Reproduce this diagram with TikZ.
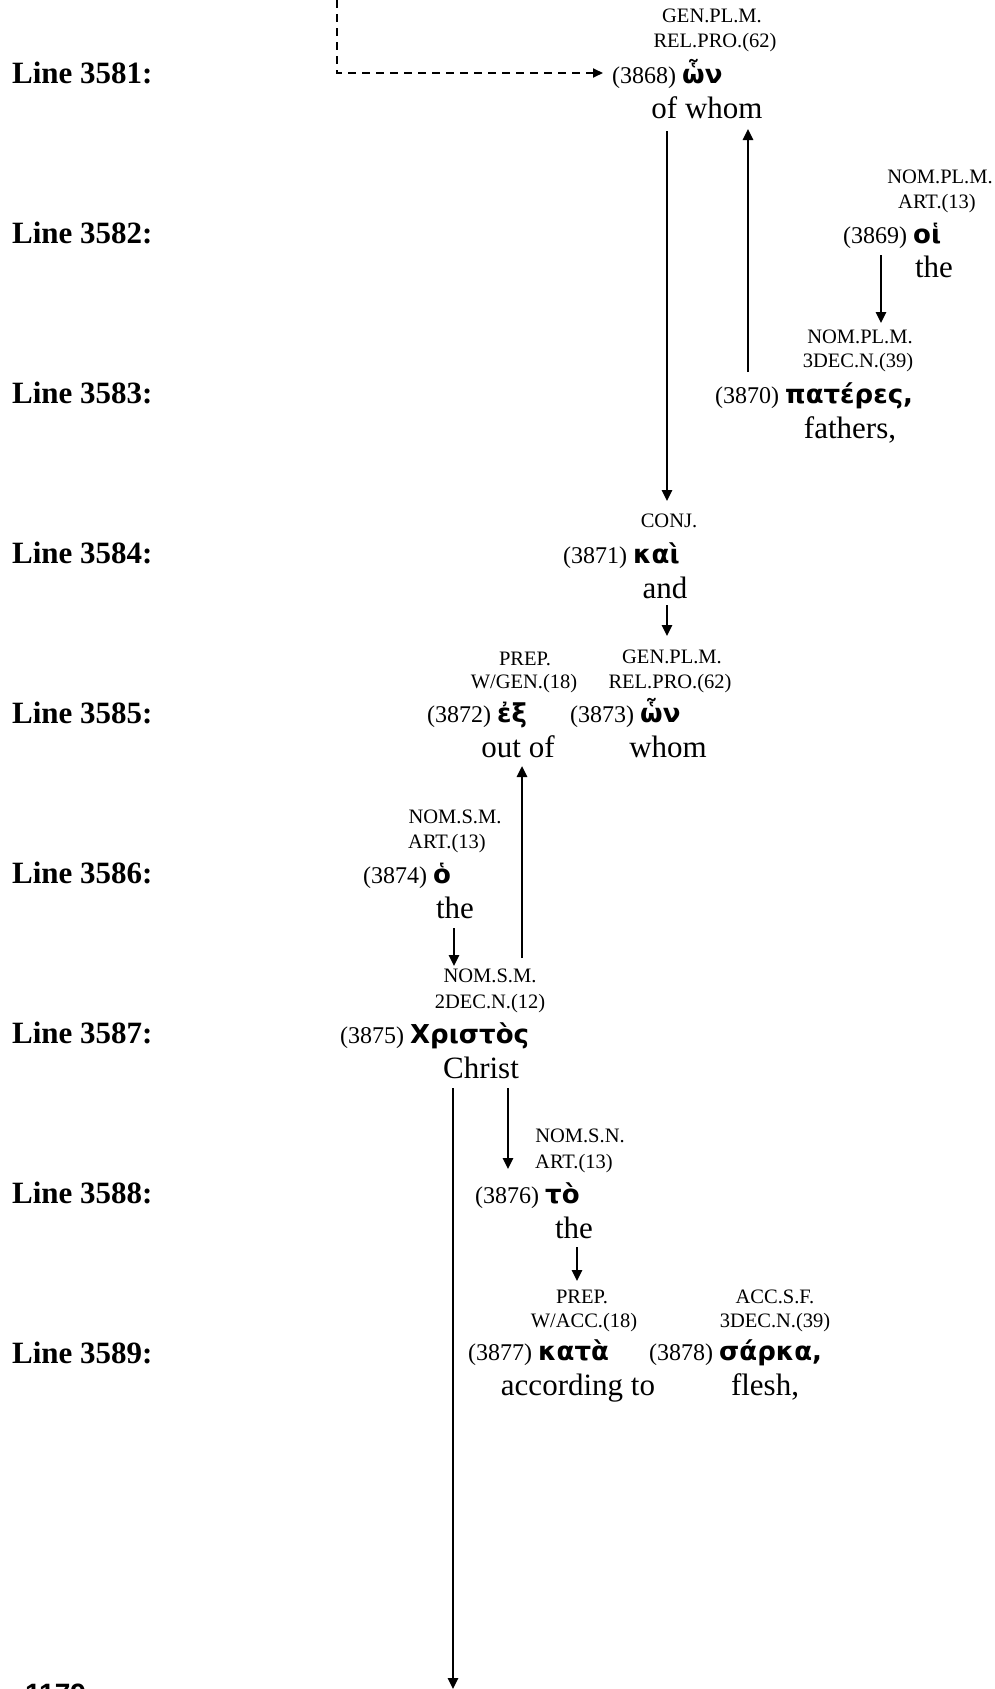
\documentclass[tikz,border=0pt]{standalone}
\usepackage{fontspec}
\setmainfont{Liberation Serif}
\newfontfamily\grk{DejaVu Sans}
\newfontfamily\pgsans{Liberation Sans}
\usetikzlibrary{arrows.meta}
\begin{document}
\begin{tikzpicture}[x=1pt,y=-1pt,
  tag/.style={font=\fontsize{20.5}{24}\selectfont, anchor=base, inner sep=0pt},
  wrd/.style={font=\fontsize{24}{28}\selectfont, anchor=base west, inner sep=0pt},
  gl/.style={font=\fontsize{31}{36}\selectfont, anchor=base, inner sep=0pt},
  lbl/.style={font=\fontsize{31}{36}\selectfont\bfseries, anchor=base west, inner sep=0pt},
  arr/.style={line width=2.5pt, -{Triangle[length=11pt,width=10pt]}},
  darr/.style={line width=1.9pt, dash pattern=on 8pt off 6pt, -{Triangle[length=10pt,width=9pt]}}]
\newcommand{\gw}[1]{{\grk\bfseries\fontsize{26}{30}\selectfont #1}}
\useasboundingbox (0,0) rectangle (995,1689);
\fill[white] (0,0) rectangle (995,1689);

% line labels
\node[lbl] (l1) at (12,83) {Line 3581:};
\node[lbl] (l2) at (12,243) {Line 3582:};
\node[lbl] (l3) at (12,403) {Line 3583:};
\node[lbl] (l4) at (12,563) {Line 3584:};
\node[lbl] (l5) at (12,723) {Line 3585:};
\node[lbl] (l6) at (12,883) {Line 3586:};
\node[lbl] (l7) at (12,1043) {Line 3587:};
\node[lbl] (l8) at (12,1203) {Line 3588:};
\node[lbl] (l9) at (12,1363) {Line 3589:};

% 3868
\node[tag] (t3868a) at (712,22) {GEN.PL.M.};
\node[tag] (t3868b) at (715,47) {REL.PRO.(62)};
\node[wrd] (w3868) at (612,83) {(3868) \gw{ὧν}};
\node[gl] (g3868) at (707,118) {of whom};

% 3869
\node[tag] (t3869a) at (940,183) {NOM.PL.M.};
\node[tag] (t3869b) at (937,208) {ART.(13)};
\node[wrd] (w3869) at (843,243) {(3869) \gw{οἱ}};
\node[gl] (g3869) at (934,277) {the};

% 3870
\node[tag] (t3870a) at (860,343) {NOM.PL.M.};
\node[tag] (t3870b) at (858,367) {3DEC.N.(39)};
\node[wrd] (w3870) at (715,403) {(3870) \gw{πατέρες,}};
\node[gl] (g3870) at (850,438) {fathers,};

% 3871
\node[tag] (t3871a) at (669,527) {CONJ.};
\node[wrd] (w3871) at (563,563) {(3871) \gw{καὶ}};
\node[gl] (g3871) at (665,598) {and};

% 3872
\node[tag] (t3872a) at (525,665) {PREP.};
\node[tag] (t3872b) at (524,688) {W/GEN.(18)};
\node[wrd] (w3872) at (427,722) {(3872) \gw{ἐξ}};
\node[gl] (g3872) at (518,757) {out of};

% 3873
\node[tag] (t3873a) at (672,663) {GEN.PL.M.};
\node[tag] (t3873b) at (670,688) {REL.PRO.(62)};
\node[wrd] (w3873) at (570,722) {(3873) \gw{ὧν}};
\node[gl] (g3873) at (668,757) {whom};

% 3874
\node[tag] (t3874a) at (455,823) {NOM.S.M.};
\node[tag] (t3874b) at (447,848) {ART.(13)};
\node[wrd] (w3874) at (363,883) {(3874) \gw{ὁ}};
\node[gl] (g3874) at (455,918) {the};

% 3875
\node[tag] (t3875a) at (490,982) {NOM.S.M.};
\node[tag] (t3875b) at (490,1008) {2DEC.N.(12)};
\node[wrd] (w3875) at (340,1043) {(3875) \gw{Χριστὸς}};
\node[gl] (g3875) at (481,1078) {Christ};

% 3876
\node[tag] (t3876a) at (580,1142) {NOM.S.N.};
\node[tag] (t3876b) at (574,1168) {ART.(13)};
\node[wrd] (w3876) at (475,1203) {(3876) \gw{τὸ}};
\node[gl] (g3876) at (574,1238) {the};

% 3877
\node[tag] (t3877a) at (582,1303) {PREP.};
\node[tag] (t3877b) at (584,1327) {W/ACC.(18)};
\node[wrd] (w3877) at (468,1360) {(3877) \gw{κατὰ}};
\node[gl] (g3877) at (578,1395) {according to};

% 3878
\node[tag] (t3878a) at (775,1303) {ACC.S.F.};
\node[tag] (t3878b) at (775,1327) {3DEC.N.(39)};
\node[wrd] (w3878) at (649,1360) {(3878) \gw{σάρκα,}};
\node[gl] (g3878) at (765,1395) {flesh,};

% page number (cut off at the bottom edge)
\node[anchor=north west, inner sep=0pt, font=\pgsans\bfseries\fontsize{28}{32}\selectfont] (pg) at (25,1684) {1179};

% connector end points
\coordinate (d0) at (337,0);
\coordinate (d1) at (337,73);
\coordinate (d2) at (603,73);
\coordinate (a1s) at (667,131);
\coordinate (a1e) at (667,501);
\coordinate (a2s) at (748,372);
\coordinate (a2e) at (748,129);
\coordinate (a3s) at (881,255);
\coordinate (a3e) at (881,323);
\coordinate (a4s) at (667,605);
\coordinate (a4e) at (667,636);
\coordinate (a5s) at (522,958);
\coordinate (a5e) at (522,766);
\coordinate (a6s) at (454,928);
\coordinate (a6e) at (454,966);
\coordinate (a7s) at (453,1088);
\coordinate (a7e) at (453,1689);
\coordinate (a8s) at (508,1088);
\coordinate (a8e) at (508,1169);
\coordinate (a9s) at (577,1247);
\coordinate (a9e) at (577,1281);

\draw[darr] (d0) -- (d1) -- (d2);
\draw[arr] (a1s) -- (a1e);
\draw[arr] (a2s) -- (a2e);
\draw[arr] (a3s) -- (a3e);
\draw[arr] (a4s) -- (a4e);
\draw[arr] (a5s) -- (a5e);
\draw[arr] (a6s) -- (a6e);
\draw[arr] (a7s) -- (a7e);
\draw[arr] (a8s) -- (a8e);
\draw[arr] (a9s) -- (a9e);
\end{tikzpicture}
\end{document}
